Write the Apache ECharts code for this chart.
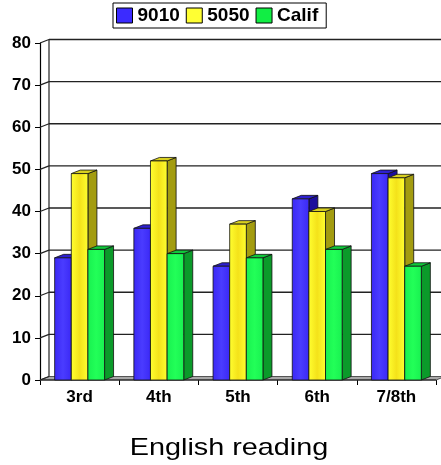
<!DOCTYPE html>
<html>
<head>
<meta charset="utf-8">
<script src="https://cdn.jsdelivr.net/npm/echarts@6/dist/echarts.min.js"></script>
<style>
  html, body { margin: 0; padding: 0; background: #fff; }
  #chart { width: 441px; height: 465px; }
</style>
</head>
<body>
<div id="chart"></div>
<script>
// Reading scores by grade for three groups
const categories = ['3rd', '4th', '5th', '6th', '7/8th'];
const s9010 = [29, 36, 27, 43, 49];
const s5050 = [49, 52, 37, 40, 48];
const sCalif = [31, 30, 29, 31, 27];
const yTicks = [0, 10, 20, 30, 40, 50, 60, 70, 80];
const chartTitle = 'English reading';

// 3D depth offset of the box (px)
const DX = 9, DY = -3.5;
const FONT = 'Arial, "Liberation Sans", Helvetica, sans-serif';

const chart = echarts.init(document.getElementById('chart'));

// Box walls: back-wall grid lines, left-wall diagonals and grey floor
function frameRenderer(params, api) {
  const cs = params.coordSys;
  const v = api.value(0);
  const y = api.coord([0, v])[1];
  const xl = cs.x, xr = cs.x + cs.width;
  const children = [];
  if (v === 0) {
    children.push({
      type: 'polygon',
      shape: { points: [[xl, y], [xr, y], [xr + DX, y + DY], [xl + DX, y + DY]] },
      style: { fill: '#a8a8a8', stroke: '#555', lineWidth: 1 }
    });
    children.push({
      type: 'line',
      shape: { x1: xl, y1: y, x2: xr, y2: y },
      style: { stroke: '#111', lineWidth: 1.2 }
    });
  } else {
    children.push({
      type: 'line',
      shape: { x1: xl + DX, y1: y + DY, x2: xr + DX, y2: y + DY },
      style: { stroke: '#222', lineWidth: 1.3 }
    });
  }
  children.push({
    type: 'line',
    shape: { x1: xl, y1: y, x2: xl + DX, y2: y + DY },
    style: { stroke: '#222', lineWidth: 1.2 }
  });
  if (v === yTicks[yTicks.length - 1]) {
    const y0 = api.coord([0, 0])[1];
    children.push({
      type: 'line',
      shape: { x1: xl + DX, y1: y + DY, x2: xl + DX, y2: y0 + DY },
      style: { stroke: '#222', lineWidth: 1.2 }
    });
  }
  return { type: 'group', children };
}

function barRenderer(k, front, side, top) {
  return function (params, api) {
    const ci = api.value(0), v = api.value(1);
    const base = api.coord([ci, 0]);
    const tip = api.coord([ci, v]);
    const band = api.size([1, 0])[0];
    const w = band * 0.21;
    const x0 = base[0] + (k - 1.5) * w;
    const x1 = x0 + w;
    const yt = tip[1], yb = base[1];
    return {
      type: 'group',
      children: [
        {
          type: 'polygon',
          shape: { points: [[x1, yt], [x1 + DX, yt + DY], [x1 + DX, yb + DY], [x1, yb]] },
          style: { fill: side, stroke: '#111', lineWidth: 0.8 }
        },
        {
          type: 'polygon',
          shape: { points: [[x0, yt], [x0 + DX, yt + DY], [x1 + DX, yt + DY], [x1, yt]] },
          style: { fill: top, stroke: '#111', lineWidth: 0.8 }
        },
        {
          type: 'rect',
          shape: { x: x0, y: yt, width: w, height: yb - yt },
          style: {
            fill: new echarts.graphic.LinearGradient(0, 0, 1, 0, [
              { offset: 0, color: front[0] },
              { offset: 0.5, color: front[1] },
              { offset: 1, color: front[0] }
            ]),
            stroke: '#111', lineWidth: 0.8
          }
        }
      ]
    };
  };
}

function toData(arr) { return arr.map((v, i) => [i, v]); }

const seriesDefs = [
  { name: '9010', data: s9010, color: '#3b2bff', front: ['#3a28f5', '#4a3cff'], side: '#1c0e9c', top: '#2e20d0' },
  { name: '5050', data: s5050, color: '#ffff33', front: ['#ffff30', '#f4e21a'], side: '#a39c10', top: '#d8d020' },
  { name: 'Calif', data: sCalif, color: '#11ee44', front: ['#18f050', '#22ff58'], side: '#0b9a2a', top: '#10c83a' }
];

const option = {
  animation: false,
  backgroundColor: '#fff',
  graphic: [{
    type: 'text',
    x: 229,
    y: 448,
    scaleX: 1.2,
    silent: true,
    style: {
      text: chartTitle,
      font: 'normal 24px ' + FONT,
      fill: '#000',
      textAlign: 'center',
      textVerticalAlign: 'middle'
    }
  }],
  legend: {
    top: 3,
    left: 113,
    borderColor: '#000',
    borderWidth: 1,
    padding: [3, 8, 3, 3],
    itemGap: 6,
    itemWidth: 16,
    itemHeight: 15,
    icon: 'rect',
    textStyle: { fontFamily: FONT, fontSize: 19, fontWeight: 'bold', color: '#000' },
    data: seriesDefs.map(d => ({ name: d.name, itemStyle: { borderColor: '#000', borderWidth: 1 } }))
  },
  grid: { left: 40, right: 5, top: 43, bottom: 85 },
  xAxis: {
    type: 'category',
    data: categories,
    boundaryGap: true,
    axisLine: { show: false },
    axisTick: { show: true, length: 5, interval: 0, lineStyle: { color: '#000' } },
    axisLabel: { interval: 0, margin: 9, fontFamily: FONT, fontSize: 17, fontWeight: 'bold', color: '#000' },
    splitLine: { show: false }
  },
  yAxis: {
    type: 'value',
    min: yTicks[0],
    max: yTicks[yTicks.length - 1],
    interval: 10,
    axisLine: { show: true, lineStyle: { color: '#000', width: 1.2 } },
    axisTick: { show: true, length: 5, lineStyle: { color: '#000' } },
    axisLabel: { margin: 9, fontFamily: FONT, fontSize: 17, fontWeight: 'bold', color: '#000' },
    splitLine: { show: false }
  },
  series: [
    {
      name: 'frame',
      type: 'custom',
      renderItem: frameRenderer,
      data: yTicks.map(v => [v]),
      encode: { y: 0 },
      silent: true,
      z: 1
    }
  ].concat(seriesDefs.map((d, k) => ({
    name: d.name,
    type: 'custom',
    renderItem: barRenderer(k, d.front, d.side, d.top),
    data: toData(d.data),
    encode: { x: 0, y: 1 },
    itemStyle: { color: d.color },
    z: 2
  })))
};

chart.setOption(option);
</script>
</body>
</html>
